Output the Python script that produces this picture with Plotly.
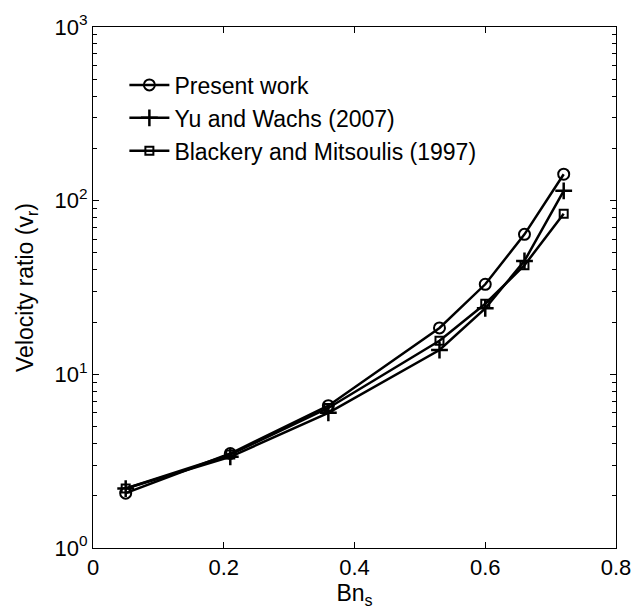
import plotly.graph_objects as go

# Bingham number and velocity ratio for each data set
bn = [0.05, 0.21, 0.36, 0.53, 0.60, 0.66, 0.72]
present_work = [2.07, 3.5, 6.6, 18.5, 33.0, 64.0, 142.0]
yu_wachs = [2.2, 3.35, 6.0, 13.8, 24.0, 45.0, 114.0]
blackery_mitsoulis = [2.2, 3.45, 6.4, 15.6, 25.5, 42.5, 84.0]

series_names = ["Present work", "Yu and Wachs (2007)", "Blackery and Mitsoulis (1997)"]
x_ticks = [0, 0.2, 0.4, 0.6, 0.8]
x_tick_text = ["0", "0.2", "0.4", "0.6", "0.8"]
y_ticks = [1, 10, 100, 1000]
y_tick_text = ["10<sup>0</sup>", "10<sup>1</sup>", "10<sup>2</sup>", "10<sup>3</sup>"]

FONT = "Liberation Sans, Arial, sans-serif"

fig = go.Figure()

styles = [
    dict(symbol="circle-open", size=11, line=dict(width=2, color="black")),
    dict(symbol="cross-thin-open", size=12, line=dict(width=2.5, color="black")),
    dict(symbol="square-open", size=8, line=dict(width=2, color="black")),
]

for name, vals, mk in zip(series_names, [present_work, yu_wachs, blackery_mitsoulis], styles):
    fig.add_trace(go.Scatter(
        x=bn, y=vals, name=name, mode="lines+markers",
        line=dict(color="black", width=2.5),
        marker=dict(color="black", **mk),
    ))

axis_common = dict(
    showline=True, linecolor="black", linewidth=1, mirror="allticks",
    ticks="inside", ticklen=6, tickcolor="black", tickwidth=1,
    showgrid=False, zeroline=False, automargin=False,
    tickfont=dict(family=FONT, size=22, color="black"),
)

fig.update_xaxes(
    range=[0, 0.8], tickvals=x_ticks, ticktext=x_tick_text,
    title=dict(text="Bn<sub>s</sub>", font=dict(family=FONT, size=23, color="black"), standoff=2),
    **axis_common,
)
fig.update_yaxes(
    type="log", range=[0, 3], tickvals=y_ticks, ticktext=y_tick_text,
    minor=dict(ticks="inside", ticklen=4, tickcolor="black", tickwidth=1, dtick="D1", showgrid=False),
    title=dict(text="Velocity ratio (v<sub>r</sub>)", font=dict(family=FONT, size=23, color="black"), standoff=14),
    **axis_common,
)

fig.update_layout(
    width=634, height=614,
    margin=dict(l=93, r=18, t=27, b=66),
    paper_bgcolor="white", plot_bgcolor="white",
    font=dict(family=FONT, size=22, color="black"),
    showlegend=True,
    legend=dict(
        x=0.06, y=0.93, xanchor="left", yanchor="top",
        bgcolor="rgba(0,0,0,0)", borderwidth=0,
        font=dict(family=FONT, size=23, color="black"),
        itemwidth=40, tracegroupgap=0,
    ),
)

fig.write_html("out.html")
